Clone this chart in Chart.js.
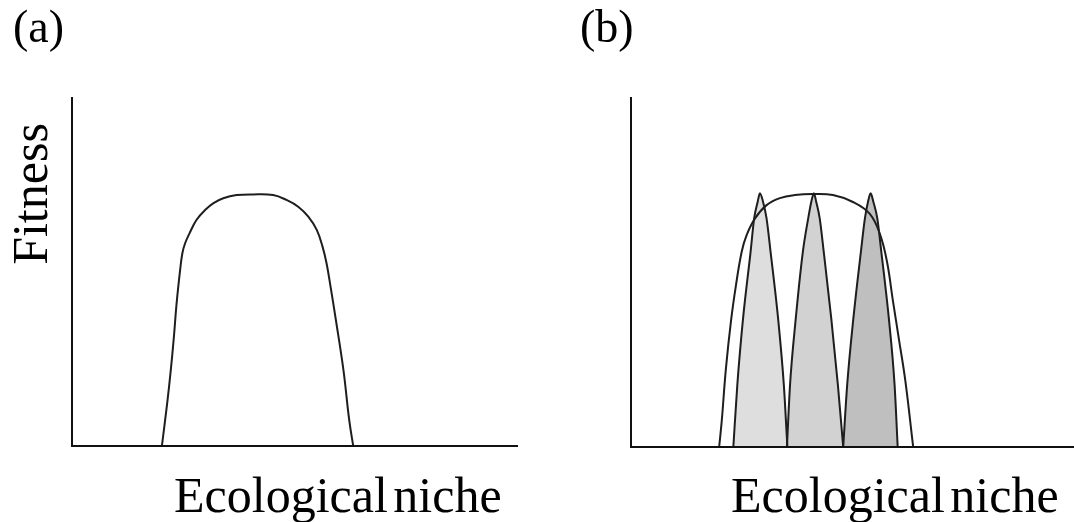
<!DOCTYPE html>
<html>
<head>
<meta charset="utf-8">
<script src="https://cdn.jsdelivr.net/npm/chart.js@4"></script>
<style>
    body { margin: 0; background: #fff; }
    #page { position: relative; width: 1074px; height: 522px; overflow: hidden; font-family: "Liberation Serif", "Times New Roman", serif; color: #000; }
    canvas { position: absolute; top: 0; }
    .txt { position: absolute; white-space: nowrap; }
    .panel-tag { font-size: 46px; line-height: 46px; top: 4px; }
    .x-title { font-size: 50px; line-height: 50px; top: 470px; word-spacing: -7px; }
    .y-title { font-size: 50px; line-height: 50px; left: 30px; top: 194px; transform: translate(-50%, -50%) rotate(-90deg); }
</style>
</head>
<body>
<div id="page">
    <canvas id="chartA" width="537" height="522" style="left:0"></canvas>
    <canvas id="chartB" width="537" height="522" style="left:537px"></canvas>
    <div class="txt panel-tag" style="left:13px">(a)</div>
    <div class="txt panel-tag" style="left:580px">(b)</div>
    <div class="txt y-title">Fitness</div>
    <div class="txt x-title" style="left:174px">Ecological niche</div>
    <div class="txt x-title" style="left:731px">Ecological niche</div>
</div>
<script>
// Panel (a): single broad fitness curve (niche 0-100, fitness 0-100)
const nicheA   = [20.2, 21.4, 22.2, 22.9, 23.5, 24.3, 24.8, 25.4, 26.4, 28.0, 29.9, 31.8, 34.0, 37.0, 40.7, 45.2, 48.2, 50.9, 53.1, 55.0, 56.3, 57.2, 58.1, 59.3, 61.0, 62.3, 63.2];
const fitnessA = [0, 12.4, 21.8, 31.4, 40.9, 50.6, 55.4, 58.2, 61.1, 65.0, 67.8, 69.8, 71.2, 72.1, 72.3, 72.1, 70.7, 68.7, 65.9, 62.1, 57.3, 52.5, 45.8, 36.2, 21.8, 7.4, 0];

// Panel (b): broad generalist curve
const nicheB   = [19.9, 20.5, 21.4, 22.6, 23.7, 25.0, 26.1, 28.0, 30.6, 33.6, 37.0, 41.0, 45.6, 50.1, 53.9, 56.2, 57.8, 59.1, 60.5, 61.9, 63.7];
const fitnessB = [0, 7.7, 22.1, 36.4, 46.4, 56.0, 60.7, 65.5, 69.3, 71.3, 72.2, 72.5, 72.2, 70.2, 66.8, 61.0, 53.0, 42.1, 30.7, 19.2, 0];

// Panel (b): three narrow specialists
const peak1Niche = [23.1, 24.0, 25.3, 27.0, 27.8, 28.6, 29.1, 29.8, 30.6, 31.5, 33.2, 34.5, 35.3];
const peak2Niche = [35.2, 35.9, 37.2, 38.8, 40.0, 40.7, 41.3, 41.8, 42.6, 43.5, 45.2, 46.7, 47.9];
const peak3Niche = [47.9, 48.8, 50.2, 51.9, 52.8, 53.5, 54.1, 54.7, 55.6, 56.5, 58.2, 59.5, 60.2];
const peakFitness = [0, 17.8, 36.9, 56.0, 65.5, 70.3, 72.7, 70.3, 65.5, 56.0, 36.9, 17.8, 0];

const peakColors = ['#dedede', '#d2d2d2', '#bfbfbf'];

function toPoints(xs, ys) {
    return xs.map((x, i) => ({ x: x, y: ys[i] }));
}

function curve(xs, ys, fillColor) {
    const ds = {
        data: toPoints(xs, ys),
        borderColor: '#1e1e1e',
        borderWidth: 2,
        backgroundColor: fillColor || 'transparent',
        fill: fillColor ? 'origin' : false,
        pointRadius: 0,
        clip: false
    };
    if (fillColor) {
        ds.cubicInterpolationMode = 'monotone';
    } else {
        ds.tension = 0.4;
    }
    return ds;
}

function axis() {
    return {
        type: 'linear',
        min: 0,
        max: 100,
        ticks: { display: false },
        grid: { display: false, drawTicks: false, tickLength: 0 },
        border: { display: true, color: '#111', width: 2, z: 1 }
    };
}

function baseOptions(padding) {
    return {
        responsive: false,
        animation: false,
        layout: { padding: padding },
        plugins: {
            legend: { display: false },
            tooltip: { enabled: false },
            filler: { drawTime: 'beforeDatasetsDraw' }
        },
        scales: { x: axis(), y: axis() }
    };
}

document.addEventListener('DOMContentLoaded', () => {
    new Chart(document.getElementById('chartA').getContext('2d'), {
        type: 'line',
        data: { datasets: [curve(nicheA, fitnessA)] },
        options: baseOptions({ left: 72, top: 98, right: 20, bottom: 76 })
    });

    new Chart(document.getElementById('chartB').getContext('2d'), {
        type: 'line',
        data: {
            datasets: [
                curve(nicheB, fitnessB),
                curve(peak1Niche, peakFitness, peakColors[0]),
                curve(peak2Niche, peakFitness, peakColors[1]),
                curve(peak3Niche, peakFitness, peakColors[2])
            ]
        },
        options: baseOptions({ left: 94, top: 98, right: 0, bottom: 75 })
    });
});
</script>
</body>
</html>
